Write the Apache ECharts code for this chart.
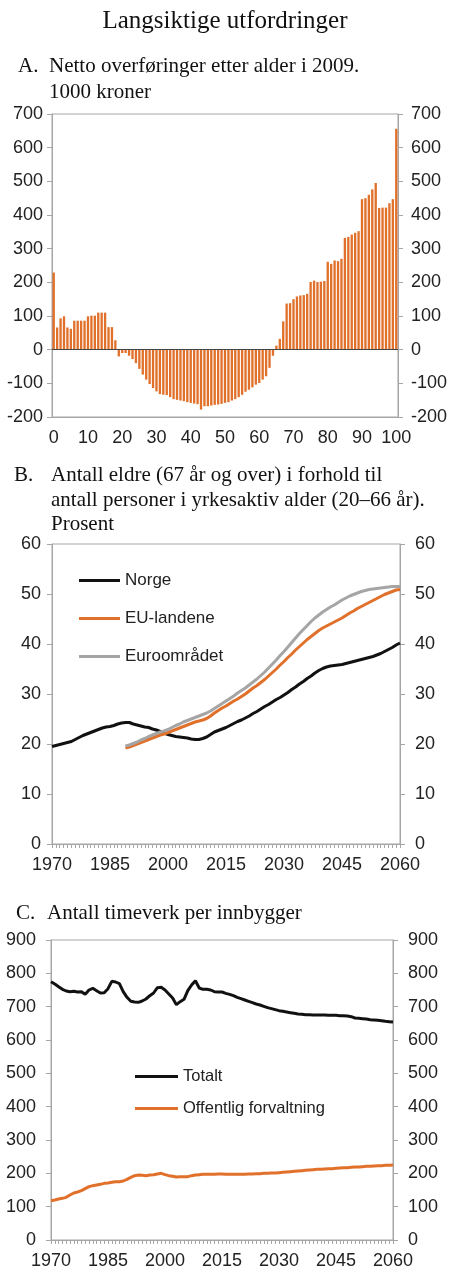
<!DOCTYPE html>
<html>
<head>
<meta charset="utf-8">
<script src="https://cdn.jsdelivr.net/npm/echarts@6/dist/echarts.min.js"></script>
<style>
  html, body { margin: 0; padding: 0; background: #fff; }
  #chart { width: 450px; height: 1284px; }
</style>
</head>
<body>
<div id="chart"></div>
<script>
// Panel A: net transfers by age, 2009 (1000 NOK)
var ages = [];
for (var a = 0; a <= 100; a++) ages.push(String(a));
var netto = [
  229, 66, 93, 99, 66, 62, 86, 86, 86, 86,
  99, 101, 101, 110, 110, 110, 67, 67, 28, -20,
  -10, -10, -18, -28, -40, -57, -74, -89, -102, -114,
  -124, -132, -134, -135, -141, -147, -149, -151, -153, -156,
  -158, -160, -162, -178, -168, -168, -166, -164, -163, -161,
  -158, -156, -151, -147, -141, -134, -125, -119, -112, -104,
  -99, -89, -79, -54, -18, 12, 32, 84, 137, 138,
  150, 158, 161, 162, 166, 201, 205, 201, 202, 204,
  261, 255, 265, 263, 270, 332, 335, 342, 347, 352,
  447, 450, 460, 476, 495, 421, 422, 422, 435, 447,
  656
];
var nettoTicks = { min: -200, max: 700, step: 100 };

// Panel B: elderly (67+) relative to working age (20-66), per cent
var norgeStart = 1970;
var norge = [
  19.5, 19.7, 19.9, 20.1, 20.3, 20.5, 20.9, 21.3, 21.7, 22.0,
  22.3, 22.6, 22.9, 23.2, 23.4, 23.5, 23.7, 24.0, 24.2, 24.3,
  24.3, 24.0, 23.8, 23.6, 23.4, 23.3, 23.0, 22.8, 22.5, 22.2,
  21.9, 21.7, 21.5, 21.4, 21.3, 21.2, 21.0, 20.9, 20.9, 21.1,
  21.4, 21.9, 22.4, 22.7, 23.0, 23.3, 23.7, 24.1, 24.5, 24.8,
  25.2, 25.6, 26.1, 26.5, 27.0, 27.5, 27.9, 28.4, 28.9, 29.3,
  29.8, 30.3, 30.9, 31.4, 32.0, 32.5, 33.1, 33.6, 34.2, 34.7,
  35.1, 35.4, 35.6, 35.7, 35.8, 35.9, 36.1, 36.3, 36.5, 36.7,
  36.9, 37.1, 37.3, 37.5, 37.8, 38.1, 38.5, 38.9, 39.3, 39.8,
  40.2
];
var euStart = 1989;
var euLandene = [
  19.2, 19.4, 19.7, 20.0, 20.3, 20.6, 20.9, 21.2, 21.5, 21.8,
  22.0, 22.3, 22.6, 22.9, 23.2, 23.5, 23.8, 24.1, 24.4, 24.6,
  24.8, 25.1, 25.6, 26.2, 26.7, 27.2, 27.6, 28.1, 28.6, 29.0,
  29.5, 30.0, 30.6, 31.2, 31.7, 32.3, 32.9, 33.6, 34.3, 35.0,
  35.8, 36.5, 37.3, 38.0, 38.8, 39.5, 40.2, 40.9, 41.5, 42.1,
  42.7, 43.2, 43.6, 44.0, 44.4, 44.8, 45.2, 45.7, 46.2, 46.6,
  47.1, 47.5, 47.9, 48.3, 48.7, 49.1, 49.5, 49.9, 50.2, 50.5,
  50.8, 50.9
];
var euroomradet = [
  19.6, 19.8, 20.1, 20.4, 20.8, 21.1, 21.5, 21.8, 22.1, 22.4,
  22.6, 22.9, 23.3, 23.7, 24.0, 24.4, 24.7, 25.0, 25.3, 25.6,
  25.9, 26.2, 26.6, 27.1, 27.6, 28.1, 28.6, 29.1, 29.6, 30.2,
  30.7, 31.2, 31.8, 32.4, 33.0, 33.7, 34.4, 35.2, 36.0, 36.8,
  37.7, 38.5, 39.4, 40.3, 41.2, 42.1, 42.9, 43.7, 44.5, 45.2,
  45.8, 46.4, 46.9, 47.4, 47.8, 48.3, 48.8, 49.2, 49.6, 49.9,
  50.2, 50.5, 50.7, 50.9, 51.0, 51.1, 51.2, 51.3, 51.4, 51.5,
  51.5, 51.5
];

// Panel C: hours worked per inhabitant
var timeStart = 1970;
var totalt = [
  775, 768, 760, 752, 747, 745, 746, 744, 745, 737,
  750, 755, 748, 741, 742, 754, 776, 774, 769, 745,
  728, 716, 714, 713, 717, 723, 733, 741, 757, 758,
  750, 738, 726, 706, 715, 722, 748, 765, 778, 756,
  752, 752, 750, 745, 744, 744, 740, 737, 733, 728,
  724, 720, 716, 712, 708, 705, 701, 697, 694, 691,
  688, 686, 684, 682, 680, 678, 677, 676, 676, 675,
  675, 675, 675, 674, 674, 674, 673, 673, 672, 670,
  666, 665, 664, 663, 661, 660, 659, 658, 656, 655,
  654
];
var offentlig = [
  118, 120, 123, 125, 128, 135, 141, 144, 148, 154,
  160, 163, 165, 167, 170, 171, 173, 175, 175, 177,
  182, 188, 193, 195, 194, 193, 195, 196, 198, 200,
  196, 193, 191, 189, 190, 190, 190, 193, 195, 196,
  197, 197, 197, 197, 198, 198, 197, 197, 197, 197,
  197, 197, 198, 198, 199, 199, 200, 200, 201, 201,
  202, 203, 204, 205, 206, 207, 208, 209, 210, 211,
  212, 212, 213, 214, 214, 215, 216, 217, 217, 218,
  219, 219, 220, 221, 221, 222, 223, 223, 224, 224,
  225
];

function pairs(start, vals) {
  return vals.map(function (v, i) { return [start + i, v]; });
}

var SANS = 'Liberation Sans';
var SERIF = 'Liberation Serif';
var AXIS = '#a6a6a6';
var TXT = '#222';
var ORANGE = '#e0702a';
var GREY = '#a5a5a5';
var BLACK = '#111';
var LBL = 18;

function plain(v) { return String(v); }

function yAxisFor(grid, pos, min, max, step, margin) {
  return {
    type: 'value', gridIndex: grid, position: pos,
    min: min, max: max, interval: step,
    axisLine: { show: true, lineStyle: { color: AXIS } },
    axisTick: { show: true, length: 5, lineStyle: { color: AXIS } },
    axisLabel: { fontFamily: SANS, fontSize: LBL, color: TXT, margin: margin, formatter: plain },
    splitLine: { show: false }
  };
}

function yearAxis(grid) {
  return {
    type: 'value', gridIndex: grid, min: 1970, max: 2060, interval: 15,
    axisLine: { onZero: false, lineStyle: { color: AXIS } },
    axisTick: { length: 4, lineStyle: { color: AXIS } },
    minorTick: { show: true, splitNumber: 15, length: 4, lineStyle: { color: AXIS } },
    axisLabel: { fontFamily: SANS, fontSize: LBL, color: TXT, margin: 12, formatter: plain },
    splitLine: { show: false }
  };
}

function txt(x, y, s, size, align) {
  return {
    type: 'text', x: x, y: y,
    style: { text: s, fontFamily: SERIF, fontSize: size, fill: '#111',
             textAlign: align || 'left', textVerticalAlign: 'middle' }
  };
}

var chart = echarts.init(document.getElementById('chart'));
chart.setOption({
  animation: false,
  backgroundColor: '#fff',
  graphic: [
    txt(225, 21, 'Langsiktige utfordringer', 25, 'center'),
    txt(18, 66, 'A.', 21),
    txt(49, 66, 'Netto overføringer etter alder i 2009.', 21),
    txt(49, 92, '1000 kroner', 21),
    txt(14, 475, 'B.', 21),
    txt(51, 475, 'Antall eldre (67 år og over) i forhold til', 21),
    txt(51, 500, 'antall personer i yrkesaktiv alder (20–66 år).', 21),
    txt(51, 524, 'Prosent', 21),
    txt(16, 913, 'C.', 21),
    txt(47, 913, 'Antall timeverk per innbygger', 21)
  ],
  grid: [
    { left: 52, top: 114, width: 347, height: 303, show: true, borderColor: AXIS, borderWidth: 1 },
    { left: 52, top: 544, width: 348, height: 300, show: true, borderColor: AXIS, borderWidth: 1 },
    { left: 51, top: 940, width: 342, height: 300, show: true, borderColor: AXIS, borderWidth: 1 }
  ],
  legend: [
    {
      data: ['Norge', 'EU-landene', 'Euroområdet'],
      orient: 'vertical', left: 79, top: 572, padding: 0, icon: 'rect',
      itemWidth: 41, itemHeight: 3, itemGap: 21,
      textStyle: { fontFamily: SANS, fontSize: 17, color: TXT }
    },
    {
      data: ['Totalt', 'Offentlig forvaltning'],
      orient: 'vertical', left: 135, top: 1068, padding: 0, icon: 'rect',
      itemWidth: 43, itemHeight: 3, itemGap: 15,
      textStyle: { fontFamily: SANS, fontSize: 16.5, color: TXT }
    }
  ],
  xAxis: [
    {
      type: 'category', gridIndex: 0, data: ages, boundaryGap: true,
      axisLine: { onZero: false, lineStyle: { color: AXIS } },
      axisTick: { interval: 9, length: 5, lineStyle: { color: AXIS } },
      axisLabel: { interval: 9, fontFamily: SANS, fontSize: LBL, color: TXT, margin: 12 }
    },
    yearAxis(1),
    yearAxis(2)
  ],
  yAxis: [
    yAxisFor(0, 'left', nettoTicks.min, nettoTicks.max, nettoTicks.step, 9),
    yAxisFor(0, 'right', nettoTicks.min, nettoTicks.max, nettoTicks.step, 13),
    yAxisFor(1, 'left', 0, 60, 10, 11),
    yAxisFor(1, 'right', 0, 60, 10, 15),
    yAxisFor(2, 'left', 0, 900, 100, 15),
    yAxisFor(2, 'right', 0, 900, 100, 15)
  ],
  series: [
    {
      name: 'Netto overføringer', type: 'bar', xAxisIndex: 0, yAxisIndex: 0,
      data: netto, barWidth: '68%',
      itemStyle: { color: ORANGE },
      markLine: {
        silent: true, symbol: 'none', label: { show: false },
        lineStyle: { color: '#444', width: 1, type: 'solid' },
        data: [{ yAxis: 0 }]
      }
    },
    {
      name: 'Norge', type: 'line', xAxisIndex: 1, yAxisIndex: 2,
      data: pairs(norgeStart, norge), showSymbol: false,
      itemStyle: { color: BLACK }, lineStyle: { color: BLACK, width: 3 }
    },
    {
      name: 'EU-landene', type: 'line', xAxisIndex: 1, yAxisIndex: 2,
      data: pairs(euStart, euLandene), showSymbol: false,
      itemStyle: { color: ORANGE }, lineStyle: { color: ORANGE, width: 3 }
    },
    {
      name: 'Euroområdet', type: 'line', xAxisIndex: 1, yAxisIndex: 2,
      data: pairs(euStart, euroomradet), showSymbol: false,
      itemStyle: { color: GREY }, lineStyle: { color: GREY, width: 3 }
    },
    {
      name: 'Totalt', type: 'line', xAxisIndex: 2, yAxisIndex: 4,
      data: pairs(timeStart, totalt), showSymbol: false,
      itemStyle: { color: BLACK }, lineStyle: { color: BLACK, width: 3 }
    },
    {
      name: 'Offentlig forvaltning', type: 'line', xAxisIndex: 2, yAxisIndex: 4,
      data: pairs(timeStart, offentlig), showSymbol: false,
      itemStyle: { color: ORANGE }, lineStyle: { color: ORANGE, width: 3 }
    }
  ]
});
</script>
</body>
</html>
